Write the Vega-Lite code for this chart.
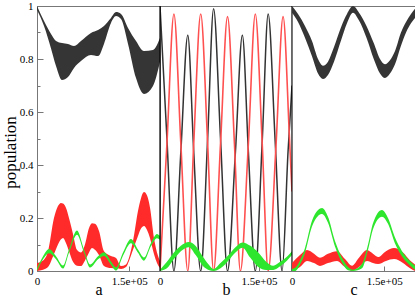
{
  "$schema": "https://vega.github.io/schema/vega-lite/v6.json",
  "padding": {"left": 0, "right": 0, "top": -1, "bottom": 0},
  "spacing": 0,
  "bounds": "flush",
  "config": {
    "view": {"stroke": "#777", "strokeWidth": 1},
    "axis": {"labelFont": "Liberation Serif", "titleFont": "Liberation Serif", "labelColor": "#000", "titleColor": "#000", "domainColor": "#777", "tickColor": "#777", "grid": false, "labelFlush": false, "labelFontSize": 11, "titleFontWeight": "normal"},
    "concat": {"spacing": 0}
  },
  "datasets": {
    "pa": [
      {"s": "k", "x": 0, "hi": 1.0, "lo": 0.985},
      {"s": "k", "x": 11400, "hi": 0.943, "lo": 0.925},
      {"s": "k", "x": 22800, "hi": 0.894, "lo": 0.84},
      {"s": "k", "x": 30900, "hi": 0.868, "lo": 0.774},
      {"s": "k", "x": 40700, "hi": 0.86, "lo": 0.721},
      {"s": "k", "x": 50400, "hi": 0.857, "lo": 0.732},
      {"s": "k", "x": 60200, "hi": 0.849, "lo": 0.766},
      {"s": "k", "x": 71500, "hi": 0.868, "lo": 0.792},
      {"s": "k", "x": 87800, "hi": 0.898, "lo": 0.815},
      {"s": "k", "x": 99200, "hi": 0.909, "lo": 0.811},
      {"s": "k", "x": 108900, "hi": 0.925, "lo": 0.857},
      {"s": "k", "x": 120300, "hi": 0.955, "lo": 0.936},
      {"s": "k", "x": 128500, "hi": 0.977, "lo": 0.962},
      {"s": "k", "x": 136600, "hi": 0.97, "lo": 0.951},
      {"s": "k", "x": 148000, "hi": 0.917, "lo": 0.857},
      {"s": "k", "x": 161000, "hi": 0.868, "lo": 0.728},
      {"s": "k", "x": 174000, "hi": 0.83, "lo": 0.668},
      {"s": "k", "x": 188600, "hi": 0.834, "lo": 0.698},
      {"s": "k", "x": 200000, "hi": 0.879, "lo": 0.79},
      {"s": "r", "x": 0, "hi": 0.03, "lo": 0.0},
      {"s": "r", "x": 9800, "hi": 0.04, "lo": 0.005},
      {"s": "r", "x": 17900, "hi": 0.075, "lo": 0.015},
      {"s": "r", "x": 27600, "hi": 0.2, "lo": 0.064},
      {"s": "r", "x": 34100, "hi": 0.245, "lo": 0.1},
      {"s": "r", "x": 39000, "hi": 0.257, "lo": 0.12},
      {"s": "r", "x": 42300, "hi": 0.255, "lo": 0.125},
      {"s": "r", "x": 47200, "hi": 0.238, "lo": 0.105},
      {"s": "r", "x": 52000, "hi": 0.2, "lo": 0.075},
      {"s": "r", "x": 58500, "hi": 0.14, "lo": 0.035},
      {"s": "r", "x": 65000, "hi": 0.08, "lo": 0.02},
      {"s": "r", "x": 71500, "hi": 0.07, "lo": 0.019},
      {"s": "r", "x": 78000, "hi": 0.1, "lo": 0.04},
      {"s": "r", "x": 84600, "hi": 0.162, "lo": 0.07},
      {"s": "r", "x": 89400, "hi": 0.18, "lo": 0.087},
      {"s": "r", "x": 94300, "hi": 0.178, "lo": 0.08},
      {"s": "r", "x": 100800, "hi": 0.151, "lo": 0.06},
      {"s": "r", "x": 108900, "hi": 0.075, "lo": 0.019},
      {"s": "r", "x": 120300, "hi": 0.057, "lo": 0.011},
      {"s": "r", "x": 128500, "hi": 0.049, "lo": 0.01},
      {"s": "r", "x": 136600, "hi": 0.019, "lo": 0.008},
      {"s": "r", "x": 144700, "hi": 0.025, "lo": 0.015},
      {"s": "r", "x": 149600, "hi": 0.05, "lo": 0.038},
      {"s": "r", "x": 156100, "hi": 0.113, "lo": 0.08},
      {"s": "r", "x": 164200, "hi": 0.226, "lo": 0.132},
      {"s": "r", "x": 169100, "hi": 0.275, "lo": 0.16},
      {"s": "r", "x": 174000, "hi": 0.298, "lo": 0.17},
      {"s": "r", "x": 178900, "hi": 0.285, "lo": 0.155},
      {"s": "r", "x": 183700, "hi": 0.24, "lo": 0.125},
      {"s": "r", "x": 190200, "hi": 0.125, "lo": 0.064},
      {"s": "r", "x": 195100, "hi": 0.07, "lo": 0.03},
      {"s": "r", "x": 200000, "hi": 0.038, "lo": 0.011},
      {"s": "g", "x": 0, "hi": 0.01, "lo": 0.0},
      {"s": "g", "x": 9800, "hi": 0.056, "lo": 0.044},
      {"s": "g", "x": 19500, "hi": 0.083, "lo": 0.067},
      {"s": "g", "x": 30900, "hi": 0.056, "lo": 0.044},
      {"s": "g", "x": 42300, "hi": 0.021, "lo": 0.009},
      {"s": "g", "x": 52000, "hi": 0.081, "lo": 0.069},
      {"s": "g", "x": 65000, "hi": 0.153, "lo": 0.137},
      {"s": "g", "x": 76400, "hi": 0.081, "lo": 0.069},
      {"s": "g", "x": 86200, "hi": 0.025, "lo": 0.013},
      {"s": "g", "x": 99200, "hi": 0.056, "lo": 0.044},
      {"s": "g", "x": 108900, "hi": 0.071, "lo": 0.057},
      {"s": "g", "x": 120300, "hi": 0.036, "lo": 0.024},
      {"s": "g", "x": 128500, "hi": 0.014, "lo": 0.002},
      {"s": "g", "x": 139800, "hi": 0.07, "lo": 0.058},
      {"s": "g", "x": 152800, "hi": 0.121, "lo": 0.105},
      {"s": "g", "x": 164200, "hi": 0.081, "lo": 0.069},
      {"s": "g", "x": 174000, "hi": 0.051, "lo": 0.039},
      {"s": "g", "x": 185400, "hi": 0.106, "lo": 0.094},
      {"s": "g", "x": 195100, "hi": 0.14, "lo": 0.124},
      {"s": "g", "x": 200000, "hi": 0.132, "lo": 0.118}
    ],
    "pb_line": [
      {"s": "k", "x": 0, "y": 1.0},
      {"s": "k", "x": 10500, "y": 0.5},
      {"s": "k", "x": 21100, "y": 0.0},
      {"s": "k", "x": 31600, "y": 0.45},
      {"s": "k", "x": 42100, "y": 0.89},
      {"s": "k", "x": 51100, "y": 0.45},
      {"s": "k", "x": 61700, "y": 0.0},
      {"s": "k", "x": 72200, "y": 0.5},
      {"s": "k", "x": 81200, "y": 0.99},
      {"s": "k", "x": 91700, "y": 0.5},
      {"s": "k", "x": 102300, "y": 0.0},
      {"s": "k", "x": 114300, "y": 0.45},
      {"s": "k", "x": 124800, "y": 0.89},
      {"s": "k", "x": 133900, "y": 0.45},
      {"s": "k", "x": 144400, "y": 0.0},
      {"s": "k", "x": 154900, "y": 0.49},
      {"s": "k", "x": 163900, "y": 0.97},
      {"s": "k", "x": 174500, "y": 0.49},
      {"s": "k", "x": 185000, "y": 0.0},
      {"s": "k", "x": 194000, "y": 0.45},
      {"s": "k", "x": 200000, "y": 0.7},
      {"s": "r", "x": 0, "y": 0.0},
      {"s": "r", "x": 10500, "y": 0.48},
      {"s": "r", "x": 21100, "y": 0.97},
      {"s": "r", "x": 31600, "y": 0.48},
      {"s": "r", "x": 42100, "y": 0.0},
      {"s": "r", "x": 51100, "y": 0.48},
      {"s": "r", "x": 61700, "y": 0.97},
      {"s": "r", "x": 72200, "y": 0.48},
      {"s": "r", "x": 81200, "y": 0.0},
      {"s": "r", "x": 91700, "y": 0.48},
      {"s": "r", "x": 102300, "y": 0.96},
      {"s": "r", "x": 112800, "y": 0.48},
      {"s": "r", "x": 121800, "y": 0.0},
      {"s": "r", "x": 133900, "y": 0.48},
      {"s": "r", "x": 144400, "y": 0.97},
      {"s": "r", "x": 154900, "y": 0.48},
      {"s": "r", "x": 163900, "y": 0.0},
      {"s": "r", "x": 175900, "y": 0.48},
      {"s": "r", "x": 186500, "y": 0.96},
      {"s": "r", "x": 196200, "y": 0.5},
      {"s": "r", "x": 200000, "y": 0.3}
    ],
    "pb_band": [
      {"x": 0, "hi": 0.005, "lo": 0.0},
      {"x": 10500, "hi": 0.035, "lo": 0.01},
      {"x": 21100, "hi": 0.07, "lo": 0.045},
      {"x": 31600, "hi": 0.095, "lo": 0.075},
      {"x": 43600, "hi": 0.109, "lo": 0.09},
      {"x": 54100, "hi": 0.094, "lo": 0.06},
      {"x": 64700, "hi": 0.055, "lo": 0.02},
      {"x": 73700, "hi": 0.025, "lo": 0.004},
      {"x": 81200, "hi": 0.008, "lo": 0.0},
      {"x": 91700, "hi": 0.03, "lo": 0.01},
      {"x": 103800, "hi": 0.06, "lo": 0.04},
      {"x": 114300, "hi": 0.09, "lo": 0.07},
      {"x": 124800, "hi": 0.108, "lo": 0.088},
      {"x": 136900, "hi": 0.095, "lo": 0.05},
      {"x": 148900, "hi": 0.07, "lo": 0.015},
      {"x": 160900, "hi": 0.035, "lo": 0.004},
      {"x": 171500, "hi": 0.02, "lo": 0.004},
      {"x": 182000, "hi": 0.035, "lo": 0.018},
      {"x": 192600, "hi": 0.055, "lo": 0.04},
      {"x": 200000, "hi": 0.075, "lo": 0.06}
    ],
    "pc": [
      {"s": "k", "x": 0, "hi": 1.0, "lo": 0.975},
      {"s": "k", "x": 9800, "hi": 0.97, "lo": 0.94},
      {"s": "k", "x": 21100, "hi": 0.925, "lo": 0.88},
      {"s": "k", "x": 32500, "hi": 0.868, "lo": 0.81},
      {"s": "k", "x": 42300, "hi": 0.8, "lo": 0.745},
      {"s": "k", "x": 50400, "hi": 0.775, "lo": 0.725},
      {"s": "k", "x": 58500, "hi": 0.79, "lo": 0.74},
      {"s": "k", "x": 68300, "hi": 0.845, "lo": 0.79},
      {"s": "k", "x": 79700, "hi": 0.92, "lo": 0.87},
      {"s": "k", "x": 89400, "hi": 0.97, "lo": 0.935},
      {"s": "k", "x": 99200, "hi": 1.0, "lo": 0.975},
      {"s": "k", "x": 109000, "hi": 0.975, "lo": 0.945},
      {"s": "k", "x": 121100, "hi": 0.925, "lo": 0.88},
      {"s": "k", "x": 132900, "hi": 0.86, "lo": 0.8},
      {"s": "k", "x": 143100, "hi": 0.8, "lo": 0.745},
      {"s": "k", "x": 151200, "hi": 0.78, "lo": 0.728},
      {"s": "k", "x": 159300, "hi": 0.795, "lo": 0.745},
      {"s": "k", "x": 167500, "hi": 0.83, "lo": 0.78},
      {"s": "k", "x": 177200, "hi": 0.9, "lo": 0.85},
      {"s": "k", "x": 185400, "hi": 0.94, "lo": 0.9},
      {"s": "k", "x": 193500, "hi": 0.97, "lo": 0.935},
      {"s": "k", "x": 200000, "hi": 0.99, "lo": 0.955},
      {"s": "r", "x": 0, "hi": 0.03, "lo": 0.0},
      {"s": "r", "x": 13000, "hi": 0.06, "lo": 0.015},
      {"s": "r", "x": 24400, "hi": 0.079, "lo": 0.038},
      {"s": "r", "x": 35800, "hi": 0.065, "lo": 0.03},
      {"s": "r", "x": 45500, "hi": 0.05, "lo": 0.019},
      {"s": "r", "x": 58500, "hi": 0.065, "lo": 0.03},
      {"s": "r", "x": 73200, "hi": 0.075, "lo": 0.038},
      {"s": "r", "x": 86200, "hi": 0.045, "lo": 0.015},
      {"s": "r", "x": 97600, "hi": 0.02, "lo": 0.0},
      {"s": "r", "x": 108900, "hi": 0.05, "lo": 0.015},
      {"s": "r", "x": 122000, "hi": 0.079, "lo": 0.038},
      {"s": "r", "x": 131700, "hi": 0.065, "lo": 0.03},
      {"s": "r", "x": 139800, "hi": 0.053, "lo": 0.026},
      {"s": "r", "x": 152800, "hi": 0.075, "lo": 0.038},
      {"s": "r", "x": 165900, "hi": 0.087, "lo": 0.045},
      {"s": "r", "x": 180500, "hi": 0.07, "lo": 0.03},
      {"s": "r", "x": 191900, "hi": 0.04, "lo": 0.01},
      {"s": "r", "x": 200000, "hi": 0.025, "lo": 0.0},
      {"s": "g", "x": 0, "hi": 0.008, "lo": 0.0},
      {"s": "g", "x": 4900, "hi": 0.012, "lo": 0.0},
      {"s": "g", "x": 13000, "hi": 0.04, "lo": 0.025},
      {"s": "g", "x": 21100, "hi": 0.087, "lo": 0.068},
      {"s": "g", "x": 32500, "hi": 0.19, "lo": 0.168},
      {"s": "g", "x": 42300, "hi": 0.23, "lo": 0.208},
      {"s": "g", "x": 48800, "hi": 0.238, "lo": 0.215},
      {"s": "g", "x": 58500, "hi": 0.205, "lo": 0.182},
      {"s": "g", "x": 69900, "hi": 0.113, "lo": 0.092},
      {"s": "g", "x": 81300, "hi": 0.05, "lo": 0.032},
      {"s": "g", "x": 91100, "hi": 0.015, "lo": 0.003},
      {"s": "g", "x": 99200, "hi": 0.005, "lo": 0.0},
      {"s": "g", "x": 113800, "hi": 0.026, "lo": 0.01},
      {"s": "g", "x": 123600, "hi": 0.1, "lo": 0.08},
      {"s": "g", "x": 131700, "hi": 0.18, "lo": 0.158},
      {"s": "g", "x": 146300, "hi": 0.23, "lo": 0.205},
      {"s": "g", "x": 156100, "hi": 0.2, "lo": 0.178},
      {"s": "g", "x": 167500, "hi": 0.126, "lo": 0.104},
      {"s": "g", "x": 178900, "hi": 0.075, "lo": 0.055},
      {"s": "g", "x": 188600, "hi": 0.045, "lo": 0.028},
      {"s": "g", "x": 196700, "hi": 0.026, "lo": 0.01},
      {"s": "g", "x": 200000, "hi": 0.02, "lo": 0.005}
    ]
  },
  "hconcat": [
    {
      "width": 123, "height": 265,
      "data": {"name": "pa"},
      "layer": [
        {
          "transform": [{"filter": "datum.s == 'k'"}],
          "mark": {"type": "area", "color": "#353535", "interpolate": "monotone", "clip": true},
          "encoding": {
            "x": {"field": "x", "type": "quantitative", "scale": {"domain": [0, 200000], "nice": false, "zero": false},
                  "axis": {"values": [0, 150000], "labelExpr": "datum.value == 0 ? '0' : '1.5e+05'", "labelFont": "Liberation Serif", "tickSize": -5, "labelPadding": 9, "title": "a", "titleFontSize": 16, "titleBaseline": "alphabetic", "titleY": 23}},
            "y": {"field": "hi", "type": "quantitative", "scale": {"domain": [0, 1], "nice": false, "zero": false},
                  "axis": {"values": [0, 0.2, 0.4, 0.6, 0.8, 1], "format": "~g", "labelFont": "Liberation Serif", "tickSize": -6, "labelPadding": 10, "title": "population", "titleFontSize": 17, "titleX": -22, "titleY": 146, "titleBaseline": "alphabetic", "titleAngle": 270}},
            "y2": {"field": "lo"}
          }
        },
        {
          "transform": [{"filter": "datum.s == 'r'"}],
          "mark": {"type": "area", "color": "#ff2a2a", "interpolate": "monotone", "clip": true},
          "encoding": {
            "x": {"field": "x", "type": "quantitative"},
            "y": {"field": "hi", "type": "quantitative", "scale": {"domain": [0, 1], "nice": false, "zero": false},
                  "axis": {"orient": "left", "values": [0.1, 0.3, 0.5, 0.7, 0.9], "labels": false, "tickSize": -3, "domain": false, "title": null}},
            "y2": {"field": "lo"}
          }
        },
        {
          "transform": [{"filter": "datum.s == 'g'"}],
          "mark": {"type": "area", "color": "#2ee62e", "interpolate": "monotone", "clip": true},
          "encoding": {
            "x": {"field": "x", "type": "quantitative"},
            "y": {"field": "hi", "type": "quantitative", "axis": null},
            "y2": {"field": "lo"}
          }
        }
      ],
      "resolve": {"axis": {"y": "independent"}}
    },
    {
      "width": 132, "height": 265,
      "layer": [
        {
          "data": {"name": "pb_line"},
          "transform": [{"filter": "datum.s == 'k'"}],
          "mark": {"type": "line", "color": "#333", "strokeWidth": 1.5, "interpolate": "monotone", "clip": true},
          "encoding": {
            "x": {"field": "x", "type": "quantitative", "scale": {"domain": [0, 200000], "nice": false, "zero": false},
                  "axis": {"values": [0, 150000], "labelExpr": "datum.value == 0 ? '0' : '1.5e+05'", "labelFont": "Liberation Serif", "tickSize": -5, "labelPadding": 9, "title": "b", "titleFontSize": 16, "titleBaseline": "alphabetic", "titleY": 23}},
            "y": {"field": "y", "type": "quantitative", "scale": {"domain": [0, 1], "nice": false, "zero": false}, "axis": null}
          }
        },
        {
          "data": {"name": "pb_line"},
          "transform": [{"filter": "datum.s == 'r'"}],
          "mark": {"type": "line", "color": "#ff5050", "strokeWidth": 1.6, "interpolate": "monotone", "clip": true},
          "encoding": {
            "x": {"field": "x", "type": "quantitative"},
            "y": {"field": "y", "type": "quantitative", "axis": null}
          }
        },
        {
          "data": {"name": "pb_band"},
          "mark": {"type": "area", "color": "#2ee62e", "interpolate": "monotone", "clip": true},
          "encoding": {
            "x": {"field": "x", "type": "quantitative"},
            "y": {"field": "hi", "type": "quantitative", "axis": null},
            "y2": {"field": "lo"}
          }
        },
        {
          "data": {"values": [{}]},
          "mark": {"type": "rule", "color": "#000", "strokeWidth": 1.2},
          "encoding": {"x": {"datum": 0}}
        },
        {
          "data": {"values": [{}]},
          "mark": {"type": "rule", "color": "#000", "strokeWidth": 1.2},
          "encoding": {"x": {"datum": 200000}}
        }
      ]
    },
    {
      "width": 123, "height": 265,
      "data": {"name": "pc"},
      "layer": [
        {
          "transform": [{"filter": "datum.s == 'k'"}],
          "mark": {"type": "area", "color": "#353535", "interpolate": "monotone", "clip": true},
          "encoding": {
            "x": {"field": "x", "type": "quantitative", "scale": {"domain": [0, 200000], "nice": false, "zero": false},
                  "axis": {"values": [0, 150000], "labelExpr": "datum.value == 0 ? '0' : '1.5e+05'", "labelFont": "Liberation Serif", "tickSize": -5, "labelPadding": 9, "title": "c", "titleFontSize": 16, "titleBaseline": "alphabetic", "titleY": 23}},
            "y": {"field": "hi", "type": "quantitative", "scale": {"domain": [0, 1], "nice": false, "zero": false}, "axis": null},
            "y2": {"field": "lo"}
          }
        },
        {
          "transform": [{"filter": "datum.s == 'r'"}],
          "mark": {"type": "area", "color": "#ff2a2a", "interpolate": "monotone", "clip": true},
          "encoding": {
            "x": {"field": "x", "type": "quantitative"},
            "y": {"field": "hi", "type": "quantitative", "axis": null},
            "y2": {"field": "lo"}
          }
        },
        {
          "transform": [{"filter": "datum.s == 'g'"}],
          "mark": {"type": "area", "color": "#2ee62e", "interpolate": "monotone", "clip": true},
          "encoding": {
            "x": {"field": "x", "type": "quantitative"},
            "y": {"field": "hi", "type": "quantitative", "axis": null},
            "y2": {"field": "lo"}
          }
        }
      ]
    }
  ]
}
